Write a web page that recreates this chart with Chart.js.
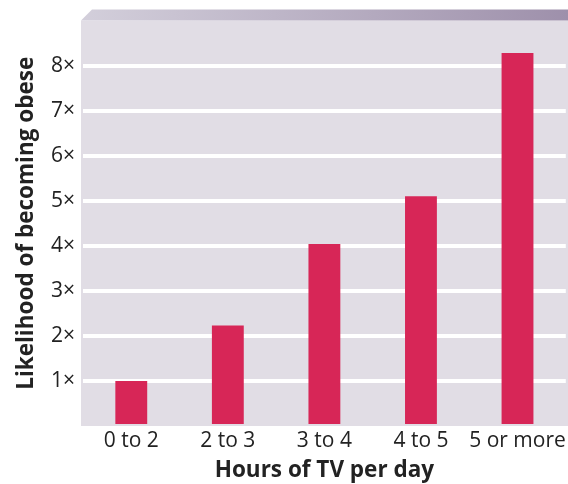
<!DOCTYPE html>
<html lang="en">
  <head>
    <meta charset="UTF-8" />
    <title>Hours of TV per day vs likelihood of obesity</title>
    <script src="https://cdn.jsdelivr.net/npm/chart.js@4/dist/chart.umd.min.js"></script>
    <style>
      html,
      body {
        margin: 0;
        padding: 0;
        background: #ffffff;
      }
      .chart-wrapper {
        position: relative;
        width: 568px;
        height: 484px;
      }
    </style>
  </head>
  <body>
    <div class="chart-wrapper">
      <canvas id="tvChart"></canvas>
    </div>

    <script>
      // data
      const categories = ["0 to 2", "2 to 3", "3 to 4", "4 to 5", "5 or more"];
      const likelihood = [1.0, 2.23, 4.04, 5.1, 8.28];
      const yTickLabels = ["1×", "2×", "3×", "4×", "5×", "6×", "7×", "8×"];

      const FONT = "'Open Sans', Lato, sans-serif";

      // lavender panel with the bevelled strip along the top
      const panelPlugin = {
        id: "panel",
        beforeDraw(chart) {
          const { ctx, chartArea } = chart;
          const left = chartArea.left - 2;
          const right = chart.width;
          ctx.save();
          ctx.fillStyle = "#e1dde5";
          ctx.fillRect(left, chartArea.top, right - left, chartArea.bottom - chartArea.top);

          const grad = ctx.createLinearGradient(left, 0, right, 0);
          grad.addColorStop(0, "#d3cfdb");
          grad.addColorStop(1, "#9e90ab");
          ctx.fillStyle = grad;
          ctx.beginPath();
          ctx.moveTo(left, chartArea.top);
          ctx.lineTo(left + 11, chartArea.top - 11);
          ctx.lineTo(right, chartArea.top - 11);
          ctx.lineTo(right, chartArea.top);
          ctx.closePath();
          ctx.fill();
          ctx.restore();
        },
      };

      new Chart(document.getElementById("tvChart").getContext("2d"), {
        type: "bar",
        data: {
          labels: categories,
          datasets: [
            {
              data: likelihood,
              backgroundColor: "#d72657",
              barPercentage: 0.33,
              categoryPercentage: 1,
            },
          ],
        },
        options: {
          responsive: true,
          maintainAspectRatio: false,
          animation: false,
          layout: { padding: { top: 19, right: 2, left: 0, bottom: 0 } },
          plugins: {
            legend: { display: false },
            tooltip: { enabled: false },
          },
          scales: {
            x: {
              afterFit(s) {
                s.height = 58;
              },
              grid: { display: false, drawTicks: false },
              border: { display: false },
              ticks: {
                color: "#222222",
                padding: 2,
                maxRotation: 0,
                minRotation: 0,
                autoSkip: false,
                font: { family: FONT, size: 21 },
              },
              title: {
                display: true,
                text: "Hours of TV per day",
                color: "#222222",
                padding: { top: 0, bottom: 0 },
                font: { family: FONT, size: 22.5, weight: "bold" },
              },
            },
            y: {
              min: 0,
              max: 9,
              afterFit(s) {
                s.width = 83;
              },
              grid: {
                drawTicks: false,
                lineWidth: 4,
                color: (c) =>
                  c.tick && c.tick.value >= 1 && c.tick.value <= 8
                    ? "#ffffff"
                    : "rgba(0,0,0,0)",
              },
              border: { display: false },
              ticks: {
                stepSize: 1,
                padding: 8,
                color: "#222222",
                font: { family: FONT, size: 21 },
                callback: (v) => (v >= 1 && v <= 8 ? yTickLabels[v - 1] : ""),
              },
              title: {
                display: true,
                text: "Likelihood of becoming obese",
                color: "#222222",
                padding: { top: 13, bottom: 0 },
                font: { family: FONT, size: 22.5, weight: "bold" },
              },
            },
          },
        },
        plugins: [panelPlugin],
      });
    </script>
  </body>
</html>
